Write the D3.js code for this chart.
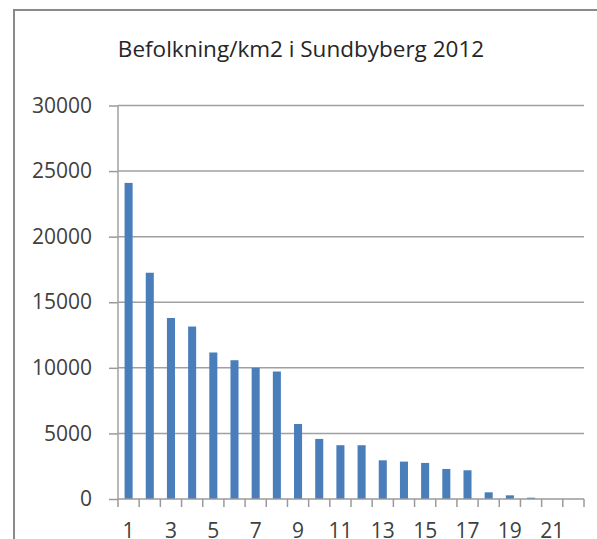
<!doctype html>
<html>
<head>
<meta charset="utf-8">
<title>Befolkning/km2 i Sundbyberg 2012</title>
<script src="https://cdn.jsdelivr.net/npm/d3@7"></script>
<style>
  html, body { margin: 0; padding: 0; background: #fff; }
  svg { display: block; }
</style>
</head>
<body>
<svg width="597" height="539"></svg>
<script>
// data
var categories = d3.range(1, 23).map(String);
var values = [24100, 17250, 13800, 13150, 11170, 10580, 10000, 9720, 5720, 4580,
              4100, 4100, 2950, 2850, 2750, 2290, 2190, 510, 280, 100, 0, 0];
var yTicks = [0, 5000, 10000, 15000, 20000, 25000, 30000];
var title = "Befolkning/km2 i Sundbyberg 2012";

var svg = d3.select("svg");
var plotLeft = 118, plotRight = 584, plotTop = 105.5, plotBottom = 499;

var x = d3.scaleBand().domain(categories).range([plotLeft, plotRight]).paddingInner(0.62).paddingOuter(0.31);
var y = d3.scaleLinear().domain([0, 30000]).range([plotBottom, plotTop]);

// frame (only top and left edges visible)
svg.append("path")
    .attr("d", "M14,600V10H600")
    .attr("fill", "none")
    .attr("stroke", "#8a8a8a")
    .attr("stroke-width", 2);

// title
svg.append("text")
    .attr("x", 301).attr("y", 57)
    .attr("text-anchor", "middle")
    .attr("font-family", "Open Sans")
    .attr("font-size", 22.5)
    .attr("fill", "#262626")
    .text(title);

// y ticks and labels
var yAxis = svg.append("g")
    .attr("transform", "translate(" + plotLeft + ",0)")
    .call(d3.axisLeft(y).tickValues(yTicks).tickSize(9).tickPadding(17).tickFormat(d3.format("d")));
yAxis.select(".domain").remove();
yAxis.selectAll(".tick line").attr("stroke", "#9a9a9a").attr("stroke-width", 1.5);
yAxis.selectAll(".tick text")
    .attr("font-family", "Open Sans").attr("font-size", 21).attr("fill", "#404040");

// gridlines
svg.append("g").selectAll("line")
    .data(yTicks.filter(function (d) { return d > 0; }))
    .enter().append("line")
    .attr("x1", plotLeft).attr("x2", plotRight)
    .attr("y1", function (d) { return y(d); })
    .attr("y2", function (d) { return y(d); })
    .attr("stroke", "#a0a0a0")
    .attr("stroke-width", 1.5);

// y axis line
svg.append("line")
    .attr("x1", plotLeft).attr("x2", plotLeft)
    .attr("y1", plotTop).attr("y2", plotBottom)
    .attr("stroke", "#a0a0a0").attr("stroke-width", 1.5);

// bars
svg.append("g").selectAll("rect")
    .data(values)
    .enter().append("rect")
    .attr("x", function (d, i) { return x(categories[i]); })
    .attr("width", x.bandwidth())
    .attr("y", function (d) { return y(d); })
    .attr("height", function (d) { return plotBottom - y(d); })
    .attr("fill", "#4a7ebb");

// x axis: ticks at category boundaries
var bounds = d3.range(categories.length + 1).map(function (i) {
    return plotLeft + i * (plotRight - plotLeft) / categories.length;
});
var xAxis = svg.append("g");
xAxis.append("line")
    .attr("x1", plotLeft).attr("x2", plotRight)
    .attr("y1", plotBottom).attr("y2", plotBottom)
    .attr("stroke", "#9a9a9a").attr("stroke-width", 1.5);
xAxis.selectAll(".xt")
    .data(bounds)
    .enter().append("line")
    .attr("x1", function (d) { return d; }).attr("x2", function (d) { return d; })
    .attr("y1", plotBottom).attr("y2", plotBottom + 8)
    .attr("stroke", "#9a9a9a").attr("stroke-width", 1.5);
xAxis.selectAll("text")
    .data(categories.filter(function (c, i) { return i % 2 === 0; }))
    .enter().append("text")
    .attr("x", function (d) { return x(d) + x.bandwidth() / 2; })
    .attr("y", 538)
    .attr("text-anchor", "middle")
    .attr("font-family", "Open Sans").attr("font-size", 21).attr("fill", "#404040")
    .text(function (d) { return d; });
</script>
</body>
</html>
